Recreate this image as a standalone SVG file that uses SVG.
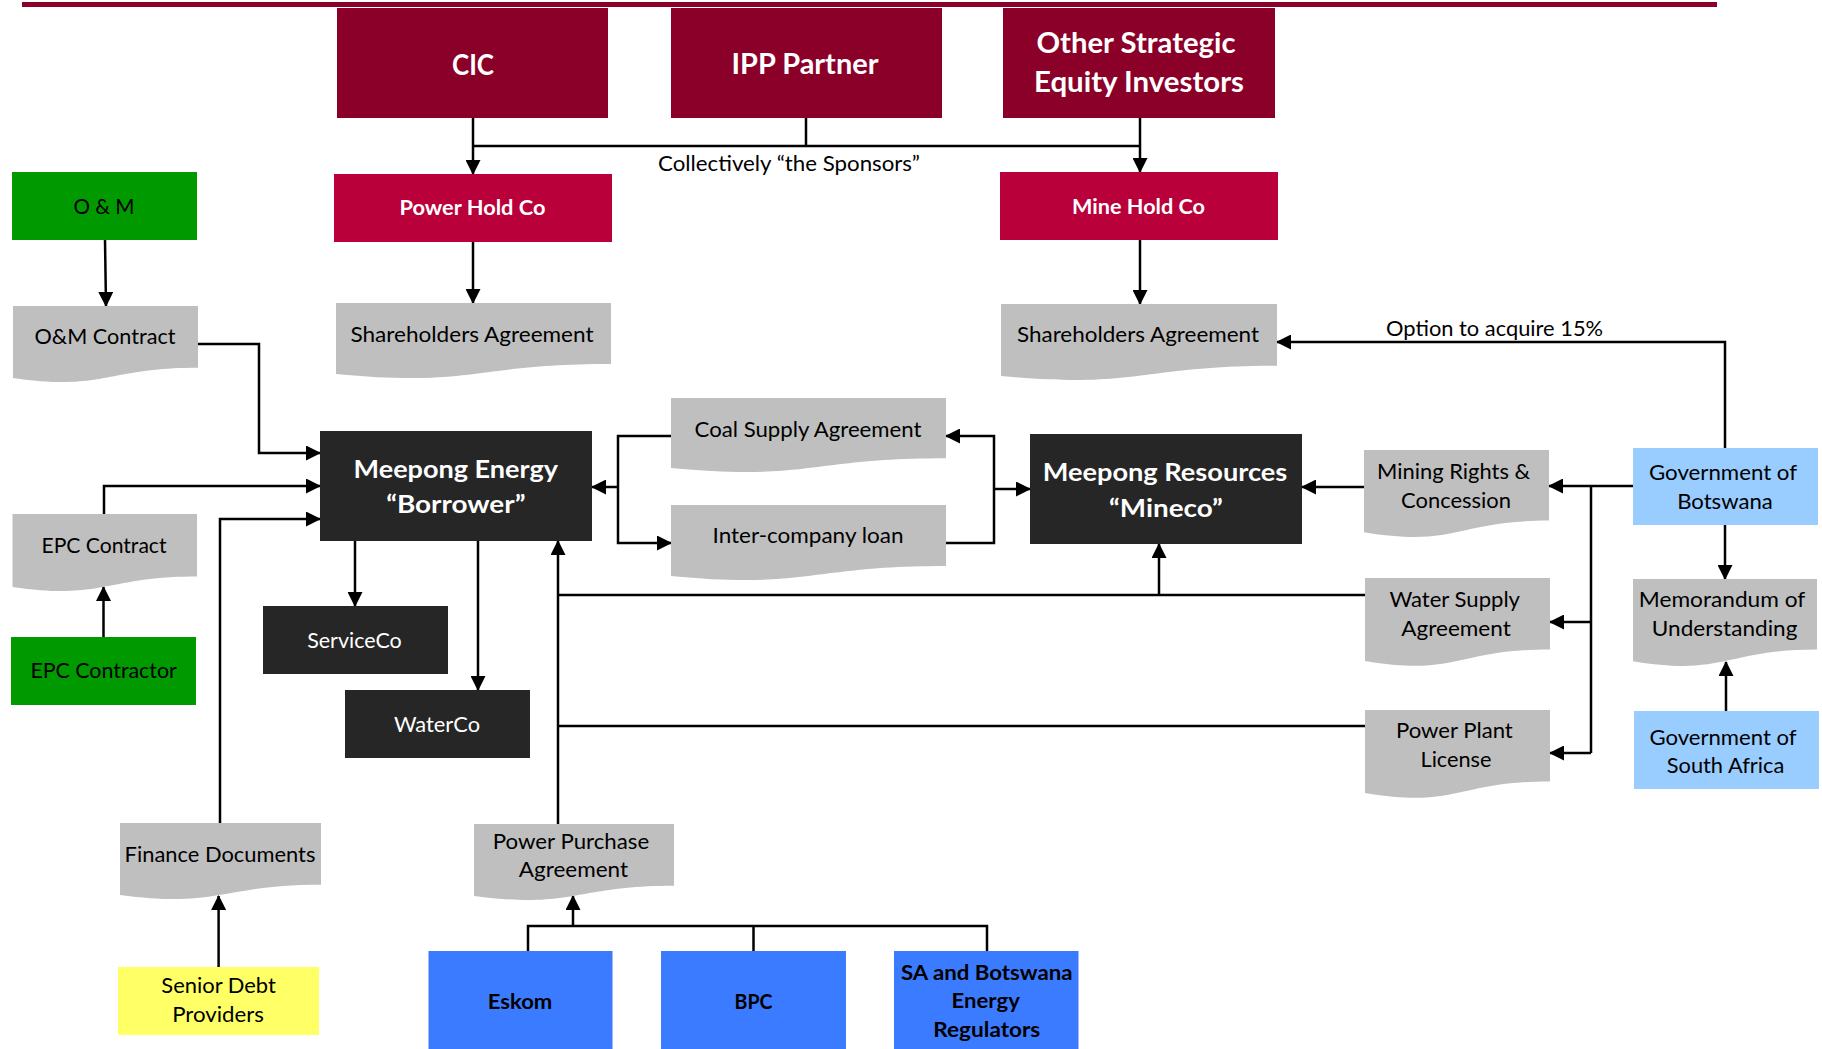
<svg xmlns="http://www.w3.org/2000/svg" width="1822" height="1049" viewBox="0 0 1822 1049">
<defs>
<marker id="ah" markerWidth="15" markerHeight="15" refX="14" refY="7.5" orient="auto" markerUnits="userSpaceOnUse"><path d="M0,0 L15,7.5 L0,15 z" fill="#000"/></marker>
<style>
text{font-family:Lato,"Liberation Sans",Arial,sans-serif;text-anchor:middle;fill:#000}
.w{fill:#fff}
.b{font-weight:bold}
.big{font-size:28px;font-weight:bold;fill:#fff}
.hold{font-size:21px;font-weight:bold;fill:#fff}
.ent{font-size:25px;font-weight:bold;fill:#fff}
.r{font-size:21px}
.rr{font-size:22px}
.reg{font-size:20px;font-weight:bold}
.sp{fill:#8A0029}
.hc{fill:#B9003A}
.dk{fill:#262626}
.gr{fill:#009A00}
.lb{fill:#99CCFF}
.bl{fill:#3B7BFF}
.ye{fill:#FFFF66}
.doc{fill:#BFBFBF}
.c path,.c line{fill:none;stroke:#000;stroke-width:2.5}
.c .a{marker-end:url(#ah)}
</style>
</defs>
<rect width="1822" height="1049" fill="#fff"/>
<rect x="22" y="2" width="1695" height="5" fill="#8A0029"/>

<g id="connectors" class="c">
<path d="M473,146 H1140"/>
<path class="a" d="M473,118 V174"/>
<path d="M806,118 V146"/>
<path class="a" d="M1140,118 V172"/>
<path class="a" d="M473,242 V303"/>
<path class="a" d="M1140,240 V304"/>
<path class="a" d="M105,240 L106,306"/>
<path class="a" d="M198,344 H259 V453 H320"/>
<path class="a" d="M104,514 V486 H320"/>
<path class="a" d="M220,823 V519 H320"/>
<path class="a" d="M103.5,637 V587"/>
<path class="a" d="M218.6,967 V896"/>
<path class="a" d="M355,541 V606"/>
<path class="a" d="M478,541 V690"/>
<path class="a" d="M671,436 H618 V543 H671"/>
<path class="a" d="M618,487 H592"/>
<path class="a" d="M946,543 H994 V436 H946"/>
<path class="a" d="M994,489 H1030"/>
<path class="a" d="M1364,487 H1302"/>
<path class="a" d="M1633,486 H1549"/>
<path d="M1591,486 V753"/>
<path class="a" d="M1591,622 H1550"/>
<path class="a" d="M1591,753 H1550"/>
<path class="a" d="M1725,448 V342 H1277"/>
<path class="a" d="M1725,525 V579"/>
<path class="a" d="M1726,711 V662"/>
<path d="M1365,595 H558"/>
<path d="M1365,726 H558"/>
<path class="a" d="M558,824 V541"/>
<path class="a" d="M1159,595 V544"/>
<path d="M528,951 V926 H987 V951"/>
<path d="M753.5,926 V951"/>
<path class="a" d="M573,926 V896"/>
</g>

<g id="cic"><rect class="sp" x="337" y="8" width="271" height="110"/><text class="big" x="473" y="75" textLength="42" lengthAdjust="spacingAndGlyphs">CIC</text></g>
<g id="ipp"><rect class="sp" x="671" y="8" width="271" height="110"/><text class="big" x="805" y="74" textLength="147" lengthAdjust="spacingAndGlyphs">IPP Partner</text></g>
<g id="other"><rect class="sp" x="1003" y="8" width="272" height="110"/><text class="big" x="1136" y="53" textLength="199" lengthAdjust="spacingAndGlyphs">Other Strategic</text><text class="big" x="1139" y="92" textLength="210" lengthAdjust="spacingAndGlyphs">Equity Investors</text></g>
<g id="sponsors-label"><text class="r" x="789" y="171" textLength="262" lengthAdjust="spacingAndGlyphs">Collectively “the Sponsors”</text></g>

<g id="powerhold"><rect class="hc" x="334" y="174" width="278" height="68"/><text class="hold" x="472.5" y="215" textLength="146" lengthAdjust="spacingAndGlyphs">Power Hold Co</text></g>
<g id="minehold"><rect class="hc" x="1000" y="172" width="278" height="68"/><text class="hold" x="1138.5" y="214" textLength="133" lengthAdjust="spacingAndGlyphs">Mine Hold Co</text></g>

<g id="om"><rect class="gr" x="12" y="172" width="185" height="68"/><text class="r" x="104" y="214" textLength="61" lengthAdjust="spacingAndGlyphs">O &amp; M</text></g>
<g id="om-contract"><path class="doc" d="M13,306 H198 V367.8 C105.5,367.8 105.5,391.3 13,377.9 Z"/><text class="r" x="105" y="344" textLength="141" lengthAdjust="spacingAndGlyphs">O&amp;M Contract</text></g>

<g id="sha-power"><path class="doc" d="M336,303 H611 V364 C473.5,364 473.5,387.2 336,374 Z"/><text class="r" x="472" y="342" textLength="243" lengthAdjust="spacingAndGlyphs">Shareholders Agreement</text></g>
<g id="sha-mine"><path class="doc" d="M1001,304 H1277 V365.8 C1139,365.8 1139,389.3 1001,375.9 Z"/><text class="r" x="1138" y="342" textLength="242" lengthAdjust="spacingAndGlyphs">Shareholders Agreement</text></g>
<g id="option-label"><text class="rr" x="1494.6" y="336" textLength="217" lengthAdjust="spacingAndGlyphs">Option to acquire 15%</text></g>

<g id="borrower"><rect class="dk" x="320" y="431" width="272" height="110"/><text class="ent" x="455.8" y="478.3" textLength="204.5" lengthAdjust="spacingAndGlyphs">Meepong Energy</text><text class="ent" x="455.8" y="512.7" textLength="139.3" lengthAdjust="spacingAndGlyphs">“Borrower”</text></g>
<g id="mineco"><rect class="dk" x="1030" y="434" width="272" height="110"/><text class="ent" x="1165" y="481" textLength="244.5" lengthAdjust="spacingAndGlyphs">Meepong Resources</text><text class="ent" x="1166" y="516.7" textLength="113.8" lengthAdjust="spacingAndGlyphs">“Mineco”</text></g>

<g id="coal"><path class="doc" d="M671,398 H946 V458.2 C808.5,458.2 808.5,481.1 671,468 Z"/><text class="r" x="808" y="436.7" textLength="226.8" lengthAdjust="spacingAndGlyphs">Coal Supply Agreement</text></g>
<g id="intercompany"><path class="doc" d="M671,505 H946 V566 C808.5,566 808.5,589.2 671,576 Z"/><text class="r" x="808" y="543" textLength="191" lengthAdjust="spacingAndGlyphs">Inter-company loan</text></g>

<g id="epc-contract"><path class="doc" d="M12.5,514 H197 V576.6 C104.75,576.6 104.75,600.4 12.5,586.9 Z"/><text class="r" x="104" y="553.3" textLength="125" lengthAdjust="spacingAndGlyphs">EPC Contract</text></g>
<g id="epc-contractor"><rect class="gr" x="11" y="637" width="185" height="68"/><text class="r" x="103.6" y="678.3" textLength="146.4" lengthAdjust="spacingAndGlyphs">EPC Contractor</text></g>

<g id="serviceco"><rect class="dk" x="263" y="606" width="185" height="68"/><text class="r w" x="354.5" y="648.3" textLength="94.6" lengthAdjust="spacingAndGlyphs">ServiceCo</text></g>
<g id="waterco"><rect class="dk" x="345" y="690" width="185" height="68"/><text class="r w" x="437" y="732.3" textLength="86" lengthAdjust="spacingAndGlyphs">WaterCo</text></g>

<g id="mining"><path class="doc" d="M1364,450 H1549 V520.6 C1456.5,520.6 1456.5,547.5 1364,532.2 Z"/><text class="rr" x="1453.6" y="478.6" textLength="153" lengthAdjust="spacingAndGlyphs">Mining Rights &amp;</text><text class="rr" x="1456" y="508" textLength="110" lengthAdjust="spacingAndGlyphs">Concession</text></g>
<g id="water-supply"><path class="doc" d="M1365,578 H1550 V649.4 C1457.5,649.4 1457.5,676.6 1365,661.1 Z"/><text class="rr" x="1454.7" y="607" textLength="130.6" lengthAdjust="spacingAndGlyphs">Water Supply</text><text class="rr" x="1456" y="635.7" textLength="109.5" lengthAdjust="spacingAndGlyphs">Agreement</text></g>
<g id="power-plant"><path class="doc" d="M1365,710 H1550 V781.4 C1457.5,781.4 1457.5,808.6 1365,793.1 Z"/><text class="rr" x="1454.4" y="738" textLength="116.8" lengthAdjust="spacingAndGlyphs">Power Plant</text><text class="rr" x="1456" y="767" textLength="71" lengthAdjust="spacingAndGlyphs">License</text></g>

<g id="gov-botswana"><rect class="lb" x="1633" y="448" width="185" height="77"/><text class="rr" x="1723" y="480" textLength="148" lengthAdjust="spacingAndGlyphs">Government of</text><text class="rr" x="1725" y="509" textLength="95.6" lengthAdjust="spacingAndGlyphs">Botswana</text></g>
<g id="mou"><path class="doc" d="M1633,579 H1817 V649.6 C1725,649.6 1725,676.5 1633,661.2 Z"/><text class="rr" x="1722" y="607" textLength="166.5" lengthAdjust="spacingAndGlyphs">Memorandum of</text><text class="rr" x="1724.6" y="636" textLength="145.6" lengthAdjust="spacingAndGlyphs">Understanding</text></g>
<g id="gov-sa"><rect class="lb" x="1634" y="711" width="185" height="78"/><text class="rr" x="1723" y="744.6" textLength="147" lengthAdjust="spacingAndGlyphs">Government of</text><text class="rr" x="1725.5" y="773" textLength="117.5" lengthAdjust="spacingAndGlyphs">South Africa</text></g>

<g id="finance"><path class="doc" d="M120,823 H321 V884.8 C220.5,884.8 220.5,908.3 120,894.9 Z"/><text class="r" x="220" y="862.3" textLength="190.8" lengthAdjust="spacingAndGlyphs">Finance Documents</text></g>
<g id="senior-debt"><rect class="ye" x="118" y="967" width="201" height="68"/><text class="r" x="218.6" y="993.3" textLength="114.5" lengthAdjust="spacingAndGlyphs">Senior Debt</text><text class="r" x="218" y="1022.3" textLength="91.7" lengthAdjust="spacingAndGlyphs">Providers</text></g>

<g id="ppa"><path class="doc" d="M474,824 H674 V885.8 C574,885.8 574,909.3 474,895.9 Z"/><text class="r" x="571" y="849" textLength="156.3" lengthAdjust="spacingAndGlyphs">Power Purchase</text><text class="r" x="573.4" y="877.3" textLength="109.3" lengthAdjust="spacingAndGlyphs">Agreement</text></g>

<g id="eskom"><rect class="bl" x="428.5" y="951" width="184" height="98"/><text class="reg" x="520" y="1009.3" textLength="64.6" lengthAdjust="spacingAndGlyphs">Eskom</text></g>
<g id="bpc"><rect class="bl" x="661" y="951" width="185" height="98"/><text class="reg" x="753.5" y="1009.3" textLength="38" lengthAdjust="spacingAndGlyphs">BPC</text></g>
<g id="regulators"><rect class="bl" x="894" y="951" width="184.5" height="98"/><text class="reg" x="986.8" y="980" textLength="171.7" lengthAdjust="spacingAndGlyphs">SA and Botswana</text><text class="reg" x="985.7" y="1008.3" textLength="68.2" lengthAdjust="spacingAndGlyphs">Energy</text><text class="reg" x="986.8" y="1037.3" textLength="107" lengthAdjust="spacingAndGlyphs">Regulators</text></g>
</svg>
